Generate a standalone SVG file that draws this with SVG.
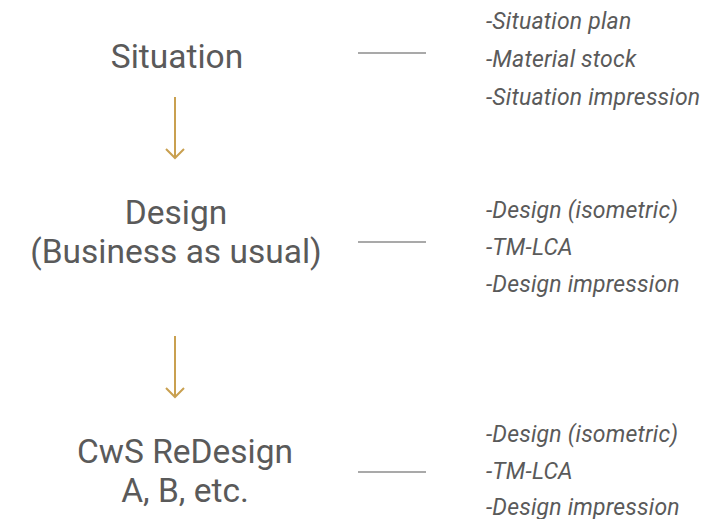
<svg xmlns="http://www.w3.org/2000/svg" width="714" height="519" viewBox="0 0 714 519">
<style>
.t{font-family:Roboto,"Liberation Sans",sans-serif;font-size:33.5px;fill:#5a5a5a;text-anchor:middle}
.i{font-family:Roboto,"Liberation Sans",sans-serif;font-size:23px;letter-spacing:0.2px;font-style:italic;fill:#5a5a5a}
.c{stroke:#555;stroke-width:1.2;fill:none}
.a{stroke:#c9a050;stroke-width:2;fill:none}
</style>
<rect width="714" height="519" fill="#fff"/>
<g id="situation">
<text class="t" x="177" y="68">Situation</text>
<text class="i" x="486" y="29">-Situation plan</text>
<text class="i" x="486" y="67">-Material stock</text>
<text class="i" x="486" y="105">-Situation impression</text>
</g>
<g id="design">
<text class="t" x="176" y="224">Design</text>
<text class="t" x="176" y="263">(Business as usual)</text>
<text class="i" x="486" y="218">-Design (isometric)</text>
<text class="i" x="486" y="255" letter-spacing="1.5">-TM-LCA</text>
<text class="i" x="486" y="292">-Design impression</text>
</g>
<g id="redesign">
<text class="t" x="185" y="463">CwS ReDesign</text>
<text class="t" x="185" y="502">A, B, etc.</text>
<text class="i" x="486" y="442">-Design (isometric)</text>
<text class="i" x="486" y="479" letter-spacing="1.5">-TM-LCA</text>
<text class="i" x="486" y="515">-Design impression</text>
</g>
<g id="connectors">
<line class="c" x1="358" y1="53" x2="426" y2="53"/>
<line class="c" x1="358" y1="242" x2="426" y2="242"/>
<line class="c" x1="358" y1="472" x2="426" y2="472"/>
<path class="a" d="M175 97V158M166 149L175 158L184 149"/>
<path class="a" d="M175 336V397M166 388L175 397L184 388"/>
</g>
</svg>
